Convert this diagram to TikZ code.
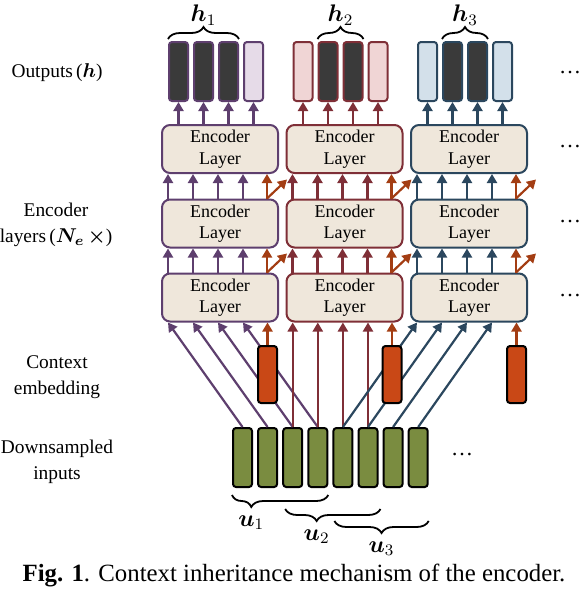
\documentclass[tikz,border=0pt]{standalone}
\usepackage{amsmath}
\usepackage{fontspec}
\setmainfont{Liberation Serif}
\usetikzlibrary{arrows.meta,decorations.pathreplacing}

\definecolor{purp}{HTML}{5E3F6E}
\definecolor{purplight}{HTML}{E6DBE8}
\definecolor{wine}{HTML}{7F2F37}
\definecolor{winelight}{HTML}{F0D5D5}
\definecolor{navy}{HTML}{2B475E}
\definecolor{navylight}{HTML}{D3E0EA}
\definecolor{ctxorange}{HTML}{C94816}
\definecolor{ctxarrow}{HTML}{A33D13}
\definecolor{olive}{HTML}{7A8C40}
\definecolor{beige}{HTML}{EFE7DB}
\definecolor{darkout}{HTML}{3A3A3A}

\tikzset{
  outbox/.style={draw, line width=1pt, rounded corners=1.5pt, minimum width=9.5pt, minimum height=29.5pt, inner sep=0pt},
  enclayer/.style={draw, line width=1pt, fill=beige, rounded corners=4pt, minimum width=58pt, minimum height=24pt, inner sep=0pt, align=center, font=\fontsize{9}{10.8}\selectfont},
  ctxbox/.style={draw=black, fill=ctxorange, line width=1pt, rounded corners=1.5pt, minimum width=9.5pt, minimum height=28.5pt, inner sep=0pt},
  inbox/.style={draw=black, fill=olive, line width=1pt, rounded corners=1.5pt, minimum width=9.5pt, minimum height=29.5pt, inner sep=0pt},
  flow/.style={-{Triangle[length=4.5pt,width=5pt]}, line width=1.1pt},
  brace/.style={decorate, decoration={brace, amplitude=6pt}, line width=0.9pt},
  sidelabel/.style={align=center, font=\fontsize{9.7}{13}\selectfont},
  dots/.style={font=\fontsize{11}{13}\selectfont},
  mathlabel/.style={font=\fontsize{12}{14}\selectfont},
  caption/.style={font=\fontsize{12.4}{14}\selectfont}
}

\begin{document}
\begin{tikzpicture}[x=0.5pt,y=-0.5pt]
\useasboundingbox (0,0) rectangle (580,590);

% encoder stacks
\foreach \g/\col in {1/purp,2/wine,3/navy}
  \foreach \r/\y in {1/149,2/223.5,3/297.5}
    \node[enclayer,draw=\col] (e-\g-\r) at ({220+124.5*(\g-1)},\y) {Encoder\\Layer};

% outputs
\foreach \g/\col/\pale/\first in {1/purp/purplight/1,2/wine/winelight/2,3/navy/navylight/2}
  \foreach \k in {1,...,4}{
    \ifnum\k<\first \def\shade{\pale}\else\ifnum\k>3 \def\shade{\pale}\else\def\shade{darkout}\fi\fi
    \node[outbox,draw=\col,fill=\shade] (o-\g-\k) at ({178.5+124.5*(\g-1)+25*(\k-1)},71.5) {};
    \draw[flow,\col] (o-\g-\k.south |- e-\g-1.north) -- (o-\g-\k.south);
  }

% between layers
\foreach \g/\col in {1/purp,2/wine,3/navy}
  \foreach \lo/\up in {2/1,3/2}{
    \foreach \dx in {3.5,16,28.5,41}
      \draw[flow,\col] ([xshift=\dx pt]e-\g-\lo.north west) -- ([xshift=\dx pt]e-\g-\up.south west);
    \draw[flow,ctxarrow] ([xshift=53pt]e-\g-\lo.north west) -- ([xshift=53pt]e-\g-\up.south west);
    \draw[flow,ctxarrow] ([xshift=53pt]e-\g-\lo.north west) -- ++(20,-19);
  }

% downsampled inputs
\foreach \i in {1,...,8}
  \node[inbox] (in-\i) at ({242.5+25.1*(\i-1)},457.5) {};
\node[dots] (in-more) at (462,455) {\ldots};

\foreach \i/\dx in {1/3.5,2/16,3/28.5,4/41}
  \draw[flow,purp] (in-\i.north) -- ([xshift=\dx pt]e-1-3.south west);
\foreach \i in {3,...,6}
  \draw[flow,wine] (in-\i.north) -- (in-\i.north |- e-2-3.south);
\foreach \i/\dx in {5/3.5,6/16,7/28.5,8/41}
  \draw[flow,navy] (in-\i.north) -- ([xshift=\dx pt]e-3-3.south west);

% context embedding
\foreach \g in {1,2,3}{
  \node[ctxbox] (c-\g) at ({267.5+124.5*(\g-1)},374.5) {};
  \draw[flow,ctxarrow] (c-\g.north) -- (c-\g.north |- e-\g-3.south);
}

% braces
\draw[brace] ([yshift=1pt]o-1-1.north west) -- ([yshift=1pt]o-1-3.north east) node[mathlabel,midway,above=3pt] {$\boldsymbol{h}_1$};
\draw[brace] ([yshift=1pt]o-2-2.north west) -- ([yshift=1pt]o-2-3.north east) node[mathlabel,midway,above=3pt] {$\boldsymbol{h}_2$};
\draw[brace] ([yshift=1pt]o-3-2.north west) -- ([yshift=1pt]o-3-3.north east) node[mathlabel,midway,above=3pt] {$\boldsymbol{h}_3$};

\draw[brace,decoration={mirror,aspect=0.2}] ([yshift=-3.5pt]in-1.south west) -- ([yshift=-3.5pt]in-4.south east) node[mathlabel,pos=0.2,below=6.5pt] {$\boldsymbol{u}_1$};
\draw[brace,decoration={mirror,aspect=0.33}] ([xshift=1.5pt,yshift=-10.5pt]in-3.south west) -- ([xshift=1pt,yshift=-10.5pt]in-6.south east) node[mathlabel,pos=0.33,below=6.5pt] {$\boldsymbol{u}_2$};
\draw[brace,decoration={mirror}] ([xshift=1pt,yshift=-16.5pt]in-5.south west) -- ([yshift=-16.5pt]in-8.south east) node[mathlabel,midway,below=6.5pt] {$\boldsymbol{u}_3$};

% labels
\node[sidelabel] (lab-out) at (57,73) {Outputs\,($\boldsymbol{h}$)};
\node[sidelabel] (lab-enc) at (56,225) {Encoder\\layers\,($\boldsymbol{N_e}\,\boldsymbol{\times}$)};
\node[sidelabel] (lab-ctx) at (57,377) {Context\\embedding};
\node[sidelabel] (lab-in) at (57,462) {Downsampled\\inputs};

\foreach \y/\n in {73/o,147/e1,221.5/e2,295.5/e3}
  \node[dots] (more-\n) at (570,\y) {\ldots};

\node[caption] (cap) at (294,575) {\textbf{Fig. 1}. Context inheritance mechanism of the encoder.};
\end{tikzpicture}
\end{document}
